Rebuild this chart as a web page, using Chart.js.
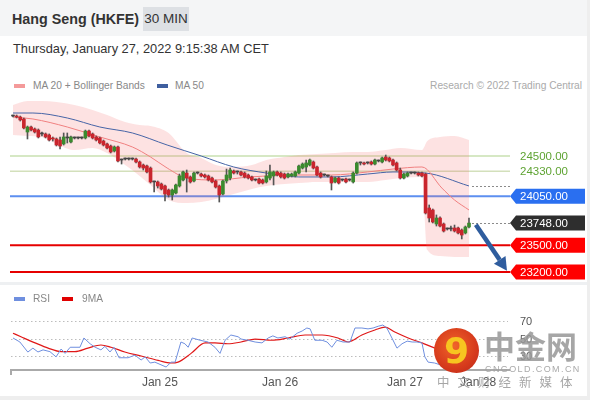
<!DOCTYPE html>
<html>
<head>
<meta charset="utf-8">
<script src="https://cdn.jsdelivr.net/npm/chart.js@4.4.1/dist/chart.umd.min.js"></script>
<style>
  body { margin: 0; background: #fff; font-family: "Liberation Sans", Arial, sans-serif; }
  #wrap { position: relative; width: 590px; height: 400px; overflow: hidden; background: #fff; }
  .abs { position: absolute; white-space: nowrap; }
  #head { left: 0; top: 0; width: 588px; height: 36px; background: #f4f5f6; }
  #title { left: 12px; top: 10px; font-size: 14.3px; font-weight: bold; color: #333; line-height: 18px; }
  #tf { left: 143px; top: 7px; width: 46px; height: 24px; background: #dde0e4; color: #333;
        font-size: 13.5px; line-height: 24px; text-align: center; }
  #date { left: 13px; top: 41px; font-size: 12.8px; color: #333; line-height: 16px; }
  .leg { font-size: 10.2px; color: #888; line-height: 12px; }
  .sw { width: 11px; height: 4px; }
  #sep { left: 0; top: 282px; width: 590px; height: 3px; background: #eef0f2; }
  #rborder { left: 587px; top: 0; width: 3px; height: 400px; background: #eeeeee; }
  #bborder { left: 0; top: 396px; width: 590px; height: 4px; background: #eeeeee; }
  canvas { position: absolute; left: 0; }
  #logo { left: 434px; top: 328px; width: 45px; height: 45px; border-radius: 50%;
          background: radial-gradient(circle at 45% 40%, #f0642a 0%, #d63a1c 60%, #b8261a 100%);
          color: #f7c520; font-weight: bold; font-size: 36px; line-height: 45px; text-align: center;
          font-family: "DejaVu Sans", sans-serif; }
  #wm1 { left: 484px; top: 326px; font-size: 31px; font-weight: bold; color: rgba(150,150,150,0.85);
         font-family: "Noto Sans CJK SC", sans-serif; line-height: 38px; }
  #wm2 { left: 485px; top: 364px; font-size: 9px; color: rgba(160,160,160,0.9); letter-spacing: 1.4px; line-height: 10px; }
  #wm3 { left: 437px; top: 374px; font-size: 12.5px; color: rgba(150,150,150,0.85); letter-spacing: 8px;
         font-family: "Noto Sans CJK SC", sans-serif; line-height: 16px; }
</style>
</head>
<body>
<div id="wrap">
  <div id="head" class="abs"></div>
  <div id="title" class="abs">Hang Seng (HKFE)</div>
  <div id="tf" class="abs">30 MIN</div>
  <div id="date" class="abs">Thursday, January 27, 2022 9:15:38 AM CET</div>

  <div class="abs sw" style="left:14px;top:84px;background:#f49a9a"></div>
  <div class="abs leg" style="left:33px;top:80px">MA 20 + Bollinger Bands</div>
  <div class="abs sw" style="left:157px;top:84px;background:#3f5f9f"></div>
  <div class="abs leg" style="left:175px;top:80px">MA 50</div>
  <div class="abs leg" style="right:8px;top:80px;color:#aaa">Research © 2022 Trading Central</div>

  <canvas id="main" width="590" height="188" style="top:95px"></canvas>
  <div id="sep" class="abs"></div>

  <div class="abs sw" style="left:14px;top:297px;background:#6f8fdf"></div>
  <div class="abs leg" style="left:33px;top:293px">RSI</div>
  <div class="abs sw" style="left:62px;top:297px;background:#e00000"></div>
  <div class="abs leg" style="left:82px;top:293px">9MA</div>

  <canvas id="rsi" width="590" height="113" style="top:285px"></canvas>

  <div id="logo" class="abs">9</div>
  <div id="wm1" class="abs">中金网</div>
  <div id="wm2" class="abs">CNGOLD.COM.CN</div>
  <div id="wm3" class="abs">中文财经新媒体</div>

  <div id="rborder" class="abs"></div>
  <div id="bborder" class="abs"></div>
</div>

<script>
// candles, one per 30 min bar (index 0..126)
const open = [24948,24948,24937,24915,24769,24825,24803,24791,24747,24747,
  24735,24702,24691,24679,24635,24702,24657,24702,24702,24702,
  24702,24780,24747,24713,24702,24668,24635,24612,24556,24601,
  24455,24466,24466,24466,24466,24433,24399,24388,24365,24209,
  24209,24186,24164,24119,24063,24085,24164,24231,24309,24265,
  24220,24309,24298,24287,24276,24253,24220,24164,24074,24220,
  24253,24332,24321,24321,24309,24287,24265,24231,24242,24231,
  24209,24253,24276,24321,24309,24298,24265,24276,24276,24309,
  24365,24377,24399,24433,24377,24309,24287,24276,24265,24209,
  24253,24231,24242,24231,24209,24309,24422,24422,24422,24433,
  24410,24444,24433,24489,24478,24455,24422,24343,24253,24276,
  24309,24309,24309,24309,24298,23917,23895,23738,23805,23738,
  23682,23682,23693,23693,23670,23637,23704];
const high = [24960,24960,24948,24926,24836,24836,24814,24803,24769,24758,
  24747,24713,24702,24713,24758,24758,24724,24713,24713,24713,
  24791,24791,24758,24724,24713,24679,24646,24623,24612,24612,
  24466,24478,24478,24478,24478,24444,24410,24399,24377,24220,
  24220,24197,24175,24130,24130,24186,24298,24332,24343,24276,
  24321,24321,24309,24298,24287,24265,24231,24175,24231,24354,
  24365,24343,24332,24332,24321,24298,24276,24242,24253,24242,
  24332,24399,24332,24332,24321,24309,24309,24309,24332,24399,
  24422,24455,24466,24444,24388,24321,24298,24287,24276,24265,
  24265,24242,24253,24242,24321,24433,24433,24433,24433,24444,
  24466,24455,24489,24511,24489,24466,24433,24365,24309,24321,
  24321,24321,24321,24321,24309,23951,23906,23839,23817,23749,
  23693,23715,23726,23704,23682,23715,23805];
const low = [24937,24926,24892,24803,24691,24780,24758,24702,24724,24702,
  24668,24668,24612,24578,24623,24646,24646,24691,24691,24691,
  24691,24713,24691,24668,24635,24612,24578,24534,24545,24433,
  24410,24455,24455,24455,24422,24365,24343,24309,24197,24096,
  24141,24119,23996,24040,24007,24074,24152,24220,24096,24197,
  24209,24298,24265,24253,24220,24197,24141,23984,24063,24197,
  24231,24298,24298,24276,24253,24242,24220,24220,24186,24186,
  24197,24231,24175,24276,24253,24242,24253,24265,24265,24298,
  24354,24321,24388,24354,24276,24253,24276,24265,24119,24197,
  24186,24220,24197,24220,24197,24298,24399,24399,24410,24399,
  24399,24433,24422,24444,24433,24388,24332,24242,24242,24265,
  24298,24298,24276,24265,23850,23760,23749,23715,23704,23648,
  23670,23659,23648,23626,23570,23626,23693];
const close = [24948,24937,24904,24814,24825,24791,24769,24713,24747,24713,
  24679,24691,24623,24612,24713,24702,24713,24702,24702,24702,
  24780,24724,24702,24679,24646,24623,24590,24545,24601,24444,
  24455,24466,24466,24466,24433,24377,24365,24321,24209,24209,
  24164,24130,24074,24063,24119,24175,24276,24321,24253,24209,
  24309,24309,24276,24265,24231,24209,24152,24063,24220,24287,
  24343,24309,24321,24287,24265,24253,24231,24231,24197,24197,
  24276,24321,24321,24287,24265,24253,24298,24298,24321,24388,
  24410,24422,24455,24365,24287,24265,24287,24276,24197,24253,
  24197,24231,24209,24231,24309,24422,24422,24410,24422,24410,
  24455,24444,24478,24455,24444,24399,24343,24253,24298,24309,
  24309,24309,24287,24276,23861,23805,23760,23805,23715,23659,
  23682,23682,23659,23637,23614,23704,23748];

// moving averages and bands, read at sample bars
const ma20Idx = [0, 5.5, 15, 24, 33, 38, 42.6, 48, 56, 65.5, 79, 88, 98, 105, 113, 118.5, 122, 126];
const ma20Val = [24937, 24915, 24825, 24713, 24601, 24489, 24365, 24253, 24231, 24265, 24287, 24287, 24321, 24354, 24377, 24141, 24007, 23895];
const ma50Idx = [0, 5.5, 15, 24, 33, 42.6, 52, 61, 70, 79, 88, 98, 105, 114, 126];
const ma50Val = [24982, 24982, 24926, 24825, 24758, 24623, 24500, 24377, 24309, 24265, 24265, 24298, 24321, 24309, 24164];
const bandIdx = [0, 4, 8, 12, 17, 22, 26, 31, 35, 38, 43, 48, 52, 56, 61, 66, 70, 75, 79, 84, 89, 94, 98, 103, 107, 113, 114.5, 118, 122, 126];
const bandUpper = [25072, 25117, 25117, 25105, 25072, 25016, 24960, 24881, 24848, 24836, 24758, 24534, 24478, 24399, 24377,
  24399, 24455, 24489, 24511, 24522, 24534, 24545, 24545, 24567, 24590, 24567, 24668, 24713, 24724, 24679];
const bandLower = [24735, 24724, 24713, 24635, 24567, 24590, 24534, 24399, 24276, 24175, 24007, 23973, 23984, 24018, 24074,
  24130, 24164, 24186, 24197, 24209, 24209, 24209, 24209, 24231, 24253, 24265, 23446, 23379, 23368, 23368];

// price levels on the right
const levelValues = [24500, 24330, 24050, 23748, 23500, 23200];
const levelLabels = ['24500.00', '24330.00', '24050.00', '23748.00', '23500.00', '23200.00'];
const ma50Last = 24164;
const arrowFrom = [127.9, 23730];
const arrowTo = [136.5, 23215];

// RSI panel
const rsiIdx = [0, 1.9, 4.1, 5.5, 6.9, 8.3, 10.2, 11.9, 13.3, 14.4, 15.8, 18.5, 19.6, 21.3, 22.7, 24.3, 25.4, 26.8, 27.9, 29.3,
  31.8, 33.7, 35.4, 36.5, 37.9, 39.2, 42.3, 43.7, 44.8, 46.4, 47.5, 48.4, 49.5, 51.7, 53.9, 55.8, 57.2, 58.6, 60.2, 62.2,
  63, 64.9, 66.9, 68.8, 70.5, 71.8, 73.2, 75.2, 76.5, 78.5, 79.9, 81.2, 82.1, 83.4, 85.4, 86.8, 88.1, 89.5, 91.2, 93.1,
  94.5, 96.4, 98.1, 99.5, 100.9, 102.2, 103.3, 104.7, 106.1, 107.5, 108.9, 110.3, 111.6, 113, 113.8, 114.7, 116.5, 118, 122, 126];
const rsiVal = [50.6, 46, 34.5, 39, 34.6, 37, 35, 29, 38, 33, 40, 40, 50.6, 44, 40, 37, 41, 34.6, 40, 28,
  28, 31, 25.4, 29, 22, 23, 17.4, 23, 23, 46, 44, 40, 50.6, 48, 46, 40, 33, 48, 54, 52,
  49.4, 48, 46, 45, 50.6, 53, 50.6, 52, 49.4, 56, 58.6, 62, 61, 48, 48, 46, 40, 48, 46, 46,
  62, 62, 61, 62, 64, 65.4, 62, 50.6, 39, 44, 47, 46, 46, 45, 29, 23, 22, 20, 22, 33];
const rsiMaIdx = [0, 2.2, 6.1, 9.7, 13.3, 17.1, 20.7, 24.3, 27.1, 30.9, 35.4, 40.1, 43.7, 45.6, 49.2, 53.1, 55.8, 59.4, 63,
  66.9, 71.5, 76, 80.7, 85.4, 89.8, 92.6, 96.4, 100, 102.8, 105.5, 109.2, 113, 116.6, 121, 126];
const rsiMaVal = [56, 52, 45, 39, 35, 35, 39, 42.6, 40, 34.6, 30, 25, 22, 23, 33, 45, 45, 44, 46,
  49.4, 48, 50.6, 54, 54, 50.6, 46, 54, 59.7, 63, 57.4, 50.6, 45, 39, 34, 31];
const rsiLevels = [70, 50, 30];
const tickIdx = [40.6, 73.8, 108.3, 128.5];
const tickLabels = ['Jan 25', 'Jan 26', 'Jan 27', 'Jan 28'];

const X_MIN = -0.553, X_MAX = 137.33;
const GREEN = '#3b8a2e', RED = '#c9252d', DOJI = '#444';

const pts = (xs, ys) => xs.map((x, i) => ({ x, y: ys[i] }));
const bodyData = open.map((o, i) => ({ x: i, y: [o, close[i]] }));
const wickData = open.map((o, i) => ({ x: i, y: [low[i], high[i]] }));
const bodyColors = open.map((o, i) => close[i] > o ? GREEN : close[i] < o ? RED : DOJI);

const levelStyle = [
  { line: '#c8e0b0', width: 1.5, text: '#5ea332', box: null },
  { line: '#d3e0bb', width: 1.5, text: '#5ea332', box: null },
  { line: '#5d8ff0', width: 2, text: '#fff', box: '#2a6ff0' },
  { line: '#888', width: 1, text: '#fff', box: '#2e2e2e', dotted: true },
  { line: '#e60000', width: 2, text: '#fff', box: '#ff0000' },
  { line: '#e60000', width: 2, text: '#fff', box: '#ff0000' },
];

function drawTag(ctx, left, py, text, st) {
  ctx.font = '11.5px "Liberation Sans", Arial, sans-serif';
  ctx.textBaseline = 'middle';
  if (st.box) {
    const h = 15, x1 = left + 6, x2 = 585;
    ctx.fillStyle = st.box;
    ctx.beginPath();
    ctx.moveTo(left, py);
    ctx.lineTo(x1, py - h / 2);
    ctx.lineTo(x2, py - h / 2);
    ctx.lineTo(x2, py + h / 2);
    ctx.lineTo(x1, py + h / 2);
    ctx.closePath();
    ctx.fill();
  }
  ctx.fillStyle = st.text;
  ctx.fillText(text, left + 10, py + 0.5);
}

const levelsPlugin = {
  id: 'levels',
  beforeDatasetsDraw(chart) {
    const { ctx, chartArea: a, scales: { x, y } } = chart;
    ctx.save();
    levelValues.forEach((v, i) => {
      const st = levelStyle[i];
      if (st.dotted) return;
      const py = y.getPixelForValue(v);
      ctx.strokeStyle = st.line;
      ctx.lineWidth = st.width;
      ctx.beginPath();
      ctx.moveTo(a.left - 1, py);
      ctx.lineTo(a.right, py);
      ctx.stroke();
    });
    ctx.restore();
  },
  afterDatasetsDraw(chart) {
    const { ctx, chartArea: a, scales: { x, y } } = chart;
    ctx.save();
    // dotted extensions
    ctx.strokeStyle = '#8a8a8a';
    ctx.lineWidth = 1;
    ctx.setLineDash([2, 2]);
    const lastX = x.getPixelForValue(open.length - 1) + 3;
    [ma50Last, close[close.length - 1]].forEach(v => {
      const py = Math.round(y.getPixelForValue(v)) + 0.5;
      ctx.beginPath();
      ctx.moveTo(lastX, py);
      ctx.lineTo(a.right, py);
      ctx.stroke();
    });
    ctx.setLineDash([]);
    // labels
    levelValues.forEach((v, i) => drawTag(ctx, a.right, y.getPixelForValue(v), levelLabels[i], levelStyle[i]));
    // arrow
    const x0 = x.getPixelForValue(arrowFrom[0]), y0 = y.getPixelForValue(arrowFrom[1]);
    const x1 = x.getPixelForValue(arrowTo[0]), y1 = y.getPixelForValue(arrowTo[1]);
    const ang = Math.atan2(y1 - y0, x1 - x0);
    const head = 13, hw = 7;
    const bx = x1 - head * Math.cos(ang), by = y1 - head * Math.sin(ang);
    ctx.strokeStyle = '#2f5d9e';
    ctx.fillStyle = '#2f5d9e';
    ctx.lineWidth = 4.5;
    ctx.beginPath();
    ctx.moveTo(x0, y0);
    ctx.lineTo(bx, by);
    ctx.stroke();
    ctx.beginPath();
    ctx.moveTo(x1, y1);
    ctx.lineTo(bx + hw * Math.sin(ang), by - hw * Math.cos(ang));
    ctx.lineTo(bx - hw * Math.sin(ang), by + hw * Math.cos(ang));
    ctx.closePath();
    ctx.fill();
    ctx.restore();
  }
};

new Chart(document.getElementById('main'), {
  type: 'bar',
  data: {
    datasets: [
      { type: 'bar', data: bodyData, backgroundColor: bodyColors, barThickness: 3, minBarLength: 1, grouped: false, order: 0 },
      { type: 'bar', data: wickData, backgroundColor: '#555', barThickness: 1, grouped: false, order: 1 },
      { type: 'line', data: pts(ma20Idx, ma20Val), borderColor: '#f08080', borderWidth: 1, pointRadius: 0,
        cubicInterpolationMode: 'monotone', order: 2 },
      { type: 'line', data: pts(ma50Idx, ma50Val), borderColor: '#4664a6', borderWidth: 1, pointRadius: 0,
        cubicInterpolationMode: 'monotone', order: 3 },
      { type: 'line', data: pts(bandIdx, bandUpper), borderColor: 'rgba(0,0,0,0)', borderWidth: 0, pointRadius: 0,
        fill: '+1', backgroundColor: 'rgba(245,110,110,0.2)', cubicInterpolationMode: 'monotone', order: 4 },
      { type: 'line', data: pts(bandIdx, bandLower), borderColor: 'rgba(0,0,0,0)', borderWidth: 0, pointRadius: 0,
        fill: false, cubicInterpolationMode: 'monotone', order: 5 },
    ],
  },
  options: {
    responsive: false, animation: false, events: [],
    layout: { padding: { left: 11, right: 80, top: 0, bottom: 0 } },
    plugins: { legend: { display: false }, tooltip: { enabled: false } },
    scales: {
      x: { type: 'linear', min: X_MIN, max: X_MAX, display: false, offset: false },
      y: { type: 'linear', min: 23076.3, max: 25183.8, display: false },
    },
  },
  plugins: [levelsPlugin],
});

const rsiPlugin = {
  id: 'rsiGrid',
  beforeDatasetsDraw(chart) {
    const { ctx, chartArea: a, scales: { x, y } } = chart;
    ctx.save();
    ctx.strokeStyle = '#bdbdbd';
    ctx.lineWidth = 1;
    ctx.setLineDash([1.5, 2.5]);
    ctx.font = '11px "Liberation Sans", Arial, sans-serif';
    ctx.textBaseline = 'middle';
    ctx.fillStyle = '#555';
    rsiLevels.forEach(v => {
      const py = Math.round(y.getPixelForValue(v)) + 0.5;
      ctx.beginPath();
      ctx.moveTo(a.left, py);
      ctx.lineTo(a.right - 2, py);
      ctx.stroke();
      ctx.fillText(String(v), a.right + 10, py);
    });
    ctx.setLineDash([]);
    // axis
    ctx.strokeStyle = '#aaa';
    ctx.lineWidth = 2;
    ctx.beginPath();
    ctx.moveTo(a.left, a.bottom + 5);
    ctx.lineTo(a.left, a.bottom);
    ctx.lineTo(a.right, a.bottom);
    ctx.stroke();
    ctx.font = '12px "Liberation Sans", Arial, sans-serif';
    ctx.fillStyle = '#555';
    ctx.textAlign = 'center';
    tickIdx.forEach((t, i) => ctx.fillText(tickLabels[i], x.getPixelForValue(t), a.bottom + 13));
    ctx.restore();
  }
};

new Chart(document.getElementById('rsi'), {
  type: 'line',
  data: {
    datasets: [
      { data: pts(rsiIdx, rsiVal), borderColor: '#6f8fdf', borderWidth: 1, pointRadius: 0, tension: 0 },
      { data: pts(rsiMaIdx, rsiMaVal), borderColor: '#e01818', borderWidth: 1.2, pointRadius: 0,
        cubicInterpolationMode: 'monotone' },
    ],
  },
  options: {
    responsive: false, animation: false, events: [],
    layout: { padding: { left: 11, right: 80, top: 15, bottom: 28 } },
    plugins: { legend: { display: false }, tooltip: { enabled: false } },
    scales: {
      x: { type: 'linear', min: X_MIN, max: X_MAX, display: false },
      y: { min: 14, max: 94, display: false },
    },
  },
  plugins: [rsiPlugin],
});
</script>
</body>
</html>
